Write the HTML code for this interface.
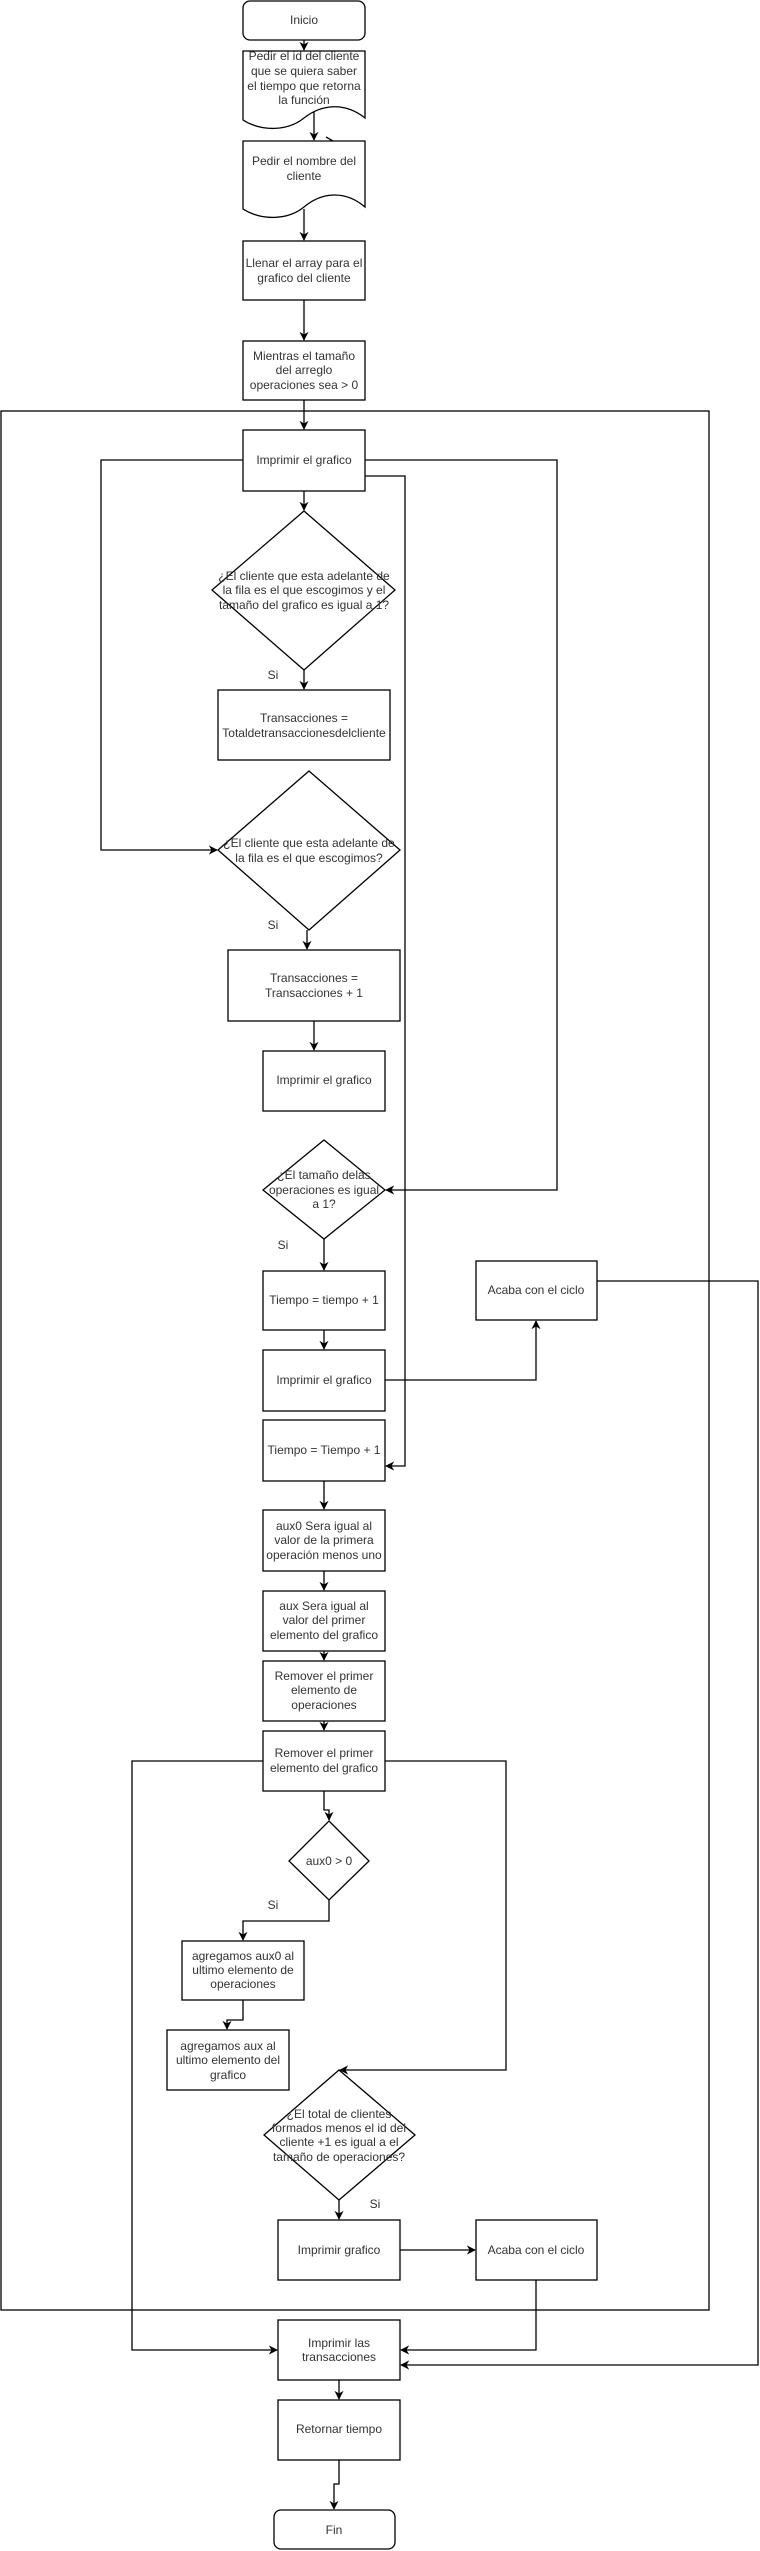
<!DOCTYPE html>
<html><head><meta charset="utf-8"><style>
html,body{margin:0;padding:0;background:#fff;}
svg{display:block;}
text{font-family:"Liberation Sans",Arial,sans-serif;font-size:12px;fill:#333;text-anchor:middle;}
.s{fill:#fff;stroke:#000;stroke-width:1.3;}
.l{fill:none;stroke:#000;stroke-width:1.3;}
</style></head><body>
<svg width="760" height="2551" viewBox="0 0 760 2551" xmlns="http://www.w3.org/2000/svg">
<defs><marker id="a" viewBox="0 0 10 10" refX="9" refY="5" markerWidth="7" markerHeight="7" orient="auto"><path d="M0,0 L10,5 L0,10 L3,5 Z" fill="#000"/></marker></defs>

<!-- outer loop rect -->
<rect x="1" y="411" width="708" height="1899" class="l"/>

<!-- Inicio -->
<rect x="243" y="1" width="122" height="39" rx="7" class="s"/>
<text x="304" y="24">Inicio</text>
<path d="M304,40 V50" class="l" marker-end="url(#a)"/>

<!-- doc1 -->
<path d="M243,51 H365 V118 C345,102 322,104 304,118 C288,131 262,132 243,120 Z" class="s"/>
<text x="304" y="60">Pedir el id del cliente</text>
<text x="304" y="75">que se quiera saber</text>
<text x="304" y="90">el tiempo que retorna</text>
<text x="304" y="104">la función</text>
<path d="M314,112 V140" class="l" marker-end="url(#a)"/>
<path d="M326,137 L333,141" class="l"/>

<!-- doc2 -->
<path d="M243,141 H365 V207 C345,190 322,192 304,207 C288,220 262,221 243,209 Z" class="s"/>
<text x="304" y="165">Pedir el nombre del</text>
<text x="304" y="180">cliente</text>
<path d="M304,209 V240" class="l" marker-end="url(#a)"/>

<rect x="243" y="241" width="122" height="59" class="s"/>
<text x="304" y="267">Llenar el array para el</text>
<text x="304" y="282">grafico del cliente</text>
<path d="M304,300 V340" class="l" marker-end="url(#a)"/>

<rect x="243" y="341" width="122" height="59" class="s"/>
<text x="304" y="360">Mientras el tamaño</text>
<text x="304" y="374">del arreglo</text>
<text x="304" y="389">operaciones sea &gt; 0</text>
<path d="M304,400 V429" class="l" marker-end="url(#a)"/>

<rect x="243" y="430" width="122" height="61" class="s"/>
<text x="304" y="464">Imprimir el grafico</text>
<path d="M243,460 H101 V850 H217" class="l" marker-end="url(#a)"/>
<path d="M365,460 H557 V1190 H386" class="l" marker-end="url(#a)"/>
<path d="M365,476 H405 V1466 H386" class="l" marker-end="url(#a)"/>
<path d="M304,491 V510" class="l" marker-end="url(#a)"/>

<!-- diamond1 -->
<path d="M304,511 L395,590 L304,670 L212,590 Z" class="s"/>
<text x="304" y="580">¿El cliente que esta adelante de</text>
<text x="304" y="594">la fila es el que escogimos y el</text>
<text x="304" y="609">tamaño del grafico es igual a 1?</text>
<text x="273" y="679">Si</text>
<path d="M304,670 V689" class="l" marker-end="url(#a)"/>

<rect x="218" y="690" width="172" height="70" class="s"/>
<text x="304" y="722">Transacciones =</text>
<text x="304" y="737">Totaldetransaccionesdelcliente</text>

<!-- diamond2 -->
<path d="M309,771 L400,850 L309,930 L218,850 Z" class="s"/>
<text x="309" y="847">¿El cliente que esta adelante de</text>
<text x="309" y="862">la fila es el que escogimos?</text>
<text x="273" y="929">Si</text>
<path d="M307,930 V949" class="l" marker-end="url(#a)"/>

<rect x="228" y="950" width="172" height="71" class="s"/>
<text x="314" y="982">Transacciones =</text>
<text x="314" y="997">Transacciones + 1</text>
<path d="M314,1021 V1050" class="l" marker-end="url(#a)"/>

<rect x="263" y="1051" width="122" height="60" class="s"/>
<text x="324" y="1084">Imprimir el grafico</text>

<!-- diamond3 -->
<path d="M324,1140 L385,1190 L324,1239 L263,1190 Z" class="s"/>
<text x="324" y="1179">¿El tamaño  delas</text>
<text x="324" y="1194">operaciones es igual</text>
<text x="324" y="1208">a 1?</text>
<text x="283" y="1249">Si</text>
<path d="M324,1239 V1270" class="l" marker-end="url(#a)"/>

<rect x="263" y="1271" width="122" height="59" class="s"/>
<text x="324" y="1304">Tiempo = tiempo + 1</text>

<rect x="476" y="1261" width="121" height="59" class="s"/>
<text x="536" y="1294">Acaba con el ciclo</text>
<path d="M597,1281 H758 V2365 H401" class="l" marker-end="url(#a)"/>

<path d="M324,1330 V1349" class="l" marker-end="url(#a)"/>
<rect x="263" y="1350" width="122" height="61" class="s"/>
<text x="324" y="1384">Imprimir el grafico</text>
<path d="M385,1380 H536 V1321" class="l" marker-end="url(#a)"/>

<rect x="263" y="1420" width="122" height="61" class="s"/>
<text x="324" y="1454">Tiempo = Tiempo + 1</text>
<path d="M324,1481 V1509" class="l" marker-end="url(#a)"/>

<rect x="263" y="1510" width="122" height="61" class="s"/>
<text x="324" y="1530">aux0 Sera  igual al</text>
<text x="324" y="1544">valor de la primera</text>
<text x="324" y="1559">operación menos uno</text>
<path d="M324,1571 V1590" class="l" marker-end="url(#a)"/>

<rect x="263" y="1591" width="122" height="60" class="s"/>
<text x="324" y="1610">aux Sera  igual al</text>
<text x="324" y="1624">valor del primer</text>
<text x="324" y="1639">elemento del grafico</text>
<path d="M324,1651 V1660" class="l" marker-end="url(#a)"/>

<rect x="263" y="1661" width="122" height="60" class="s"/>
<text x="324" y="1680">Remover el primer</text>
<text x="324" y="1694">elemento de</text>
<text x="324" y="1709">operaciones</text>
<path d="M324,1721 V1730" class="l" marker-end="url(#a)"/>

<rect x="263" y="1731" width="122" height="60" class="s"/>
<text x="324" y="1757">Remover el primer</text>
<text x="324" y="1772">elemento del grafico</text>
<path d="M263,1761 H132 V2350 H277" class="l" marker-end="url(#a)"/>
<path d="M385,1761 H506 V2070 H340" class="l" marker-end="url(#a)"/>
<path d="M324,1791 V1810 H329 V1820" class="l" marker-end="url(#a)"/>

<!-- diamond4 -->
<path d="M329,1821 L369,1861 L329,1900 L289,1861 Z" class="s"/>
<text x="329" y="1865">aux0 &gt; 0</text>
<text x="273" y="1909">Si</text>
<path d="M329,1900 V1921 H243 V1940" class="l" marker-end="url(#a)"/>

<rect x="182" y="1941" width="122" height="59" class="s"/>
<text x="243" y="1960">agregamos aux0 al</text>
<text x="243" y="1974">ultimo elemento de</text>
<text x="243" y="1988">operaciones</text>
<path d="M243,2000 V2020 H227 V2029" class="l" marker-end="url(#a)"/>

<rect x="167" y="2030" width="122" height="60" class="s"/>
<text x="228" y="2050">agregamos aux al</text>
<text x="228" y="2064">ultimo elemento del</text>
<text x="228" y="2079">grafico</text>

<!-- diamond5 -->
<path d="M339,2070 L415,2135 L339,2200 L264,2135 Z" class="s"/>
<text x="339" y="2118">¿El total de clientes</text>
<text x="339" y="2132">formados menos el id del</text>
<text x="339" y="2146">cliente +1 es igual a el</text>
<text x="339" y="2161">tamaño de operaciones?</text>
<text x="375" y="2208">Si</text>
<path d="M339,2200 V2219" class="l" marker-end="url(#a)"/>

<rect x="278" y="2220" width="122" height="60" class="s"/>
<text x="339" y="2254">Imprimir grafico</text>
<path d="M400,2250 H475" class="l" marker-end="url(#a)"/>
<rect x="476" y="2220" width="121" height="60" class="s"/>
<text x="536" y="2254">Acaba con el ciclo</text>
<path d="M536,2280 V2350 H401" class="l" marker-end="url(#a)"/>

<rect x="278" y="2320" width="122" height="60" class="s"/>
<text x="339" y="2347">Imprimir las</text>
<text x="339" y="2361">transacciones</text>
<path d="M339,2380 V2399" class="l" marker-end="url(#a)"/>

<rect x="278" y="2400" width="122" height="60" class="s"/>
<text x="339" y="2433">Retornar tiempo</text>
<path d="M339,2460 V2484 H334 V2509" class="l" marker-end="url(#a)"/>

<rect x="274" y="2510" width="121" height="39" rx="7" class="s"/>
<text x="334" y="2534">Fin</text>
</svg>
</body></html>
